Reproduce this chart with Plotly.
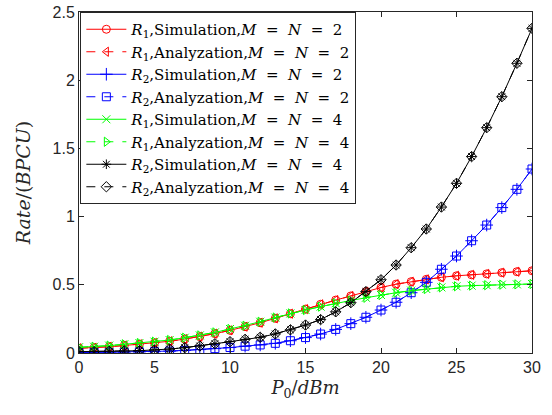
import plotly.graph_objects as go

p0 = list(range(0, 31))

r1_sim_22 = [0.035, 0.039, 0.046, 0.055, 0.064, 0.074, 0.086, 0.102, 0.120, 0.142, 0.166,
             0.193, 0.222, 0.254, 0.288, 0.322, 0.357, 0.388, 0.418, 0.450, 0.480, 0.505,
             0.523, 0.540, 0.555, 0.566, 0.573, 0.580, 0.589, 0.596, 0.603]
r1_ana_22 = list(r1_sim_22)
r2_sim_22 = [0.003, 0.004, 0.005, 0.006, 0.008, 0.010, 0.014, 0.019, 0.025, 0.032, 0.040,
             0.050, 0.059, 0.071, 0.090, 0.113, 0.139, 0.173, 0.215, 0.262, 0.315, 0.372,
             0.442, 0.518, 0.614, 0.711, 0.823, 0.938, 1.066, 1.200, 1.349]
r2_ana_22 = list(r2_sim_22)
r1_sim_44 = [0.042, 0.046, 0.054, 0.064, 0.073, 0.083, 0.095, 0.112, 0.129, 0.151, 0.176,
             0.200, 0.229, 0.260, 0.290, 0.315, 0.340, 0.365, 0.385, 0.405, 0.425, 0.442,
             0.457, 0.469, 0.481, 0.489, 0.494, 0.497, 0.501, 0.503, 0.506]
r1_ana_44 = list(r1_sim_44)
r2_sim_44 = [0.010, 0.010, 0.012, 0.015, 0.017, 0.022, 0.029, 0.039, 0.051, 0.068, 0.083,
             0.100, 0.115, 0.140, 0.170, 0.205, 0.245, 0.302, 0.369, 0.450, 0.537, 0.645,
             0.772, 0.909, 1.070, 1.244, 1.440, 1.652, 1.879, 2.124, 2.380]
r2_ana_44 = list(r2_sim_44)

SP = "&nbsp;&nbsp;"
def label(r, kind, n):
    return (f"<i>R</i><sub>{r}</sub>,{kind},<i>M</i>{SP}={SP}<i>N</i>{SP}={SP}{n}")

names = [
    label(1, "Simulation", 2),
    label(1, "Analyzation", 2),
    label(2, "Simulation", 2),
    label(2, "Analyzation", 2),
    label(1, "Simulation", 4),
    label(1, "Analyzation", 4),
    label(2, "Simulation", 4),
    label(2, "Analyzation", 4),
]
series = [r1_sim_22, r1_ana_22, r2_sim_22, r2_ana_22, r1_sim_44, r1_ana_44, r2_sim_44, r2_ana_44]
colors = ["#ff0000", "#ff0000", "#0000ff", "#0000ff", "#00ff00", "#00ff00", "#000000", "#000000"]
dashes = ["solid", "dash", "solid", "dash", "solid", "dash", "solid", "dash"]
symbols = ["circle-open", "triangle-left-open", "cross-thin-open", "square-open",
           "x-thin-open", "triangle-right-open", "asterisk-open", "diamond-open"]
sizes = [8, 8, 9, 8, 8, 8, 8, 8]

fig = go.Figure()
for name, ys, c, d, s, sz in zip(names, series, colors, dashes, symbols, sizes):
    fig.add_trace(go.Scatter(
        x=p0, y=ys, name=name, mode="lines+markers",
        line=dict(color=c, width=1, dash=d),
        marker=dict(symbol=s, size=sz, color=c, line=dict(color=c, width=1)),
    ))

axis_common = dict(
    showline=True, linecolor="#262626", linewidth=1, mirror="ticks",
    ticks="inside", ticklen=5, tickcolor="#262626", showgrid=False, zeroline=False,
    automargin=False,
    tickfont=dict(family="Liberation Sans, Arial", size=16, color="#262626"),
)
fig.update_xaxes(range=[0, 30], tickvals=[0, 5, 10, 15, 20, 25, 30],
                 title=dict(text="<i>P</i><sub>0</sub>/<i>dBm</i>",
                            font=dict(family="DejaVu Serif, Liberation Serif", size=18, color="#262626"),
                            standoff=6),
                 **axis_common)
fig.update_yaxes(range=[0, 2.5], tickvals=[0, 0.5, 1, 1.5, 2, 2.5],
                 ticktext=["0", "0.5", "1", "1.5", "2", "2.5"],
                 title=dict(text="<i>Rate</i>/(<i>BPCU</i>)",
                            font=dict(family="DejaVu Serif, Liberation Serif", size=19, color="#262626"),
                            standoff=16),
                 **axis_common)

fig.update_layout(
    width=552, height=415,
    margin=dict(l=79, r=20, t=12, b=62),
    plot_bgcolor="white", paper_bgcolor="white",
    legend=dict(x=0.003, y=1.0, xanchor="left", yanchor="top",
                bordercolor="#262626", borderwidth=1, bgcolor="white",
                font=dict(family="DejaVu Serif, Liberation Serif", size=15, color="#000000"),
                tracegroupgap=0, itemwidth=40),
    showlegend=True,
)

fig.write_html("out.html")
